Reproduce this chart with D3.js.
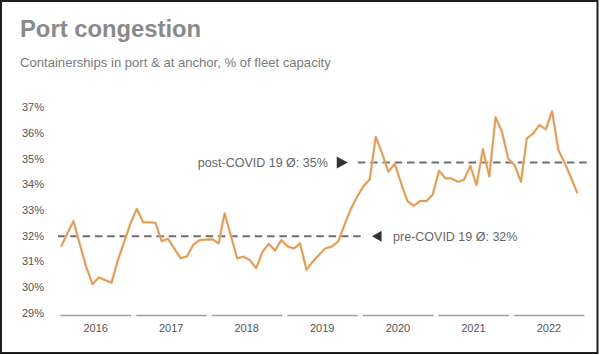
<!DOCTYPE html>
<html>
<head>
<meta charset="utf-8">
<script src="https://cdn.jsdelivr.net/npm/d3@7"></script>
<style>
  html, body { margin: 0; padding: 0; background: #fff; }
  svg { display: block; font-family: "Liberation Sans", Arial, Helvetica, sans-serif; }
</style>
</head>
<body>
<svg id="chart" width="600" height="355"></svg>
<script>
// ---- Data ----
const title = "Port congestion";
const subtitle = "Containerships in port & at anchor, % of fleet capacity";
const startMonth = "2016-01";
// Monthly share of fleet capacity (%) Jan 2016 .. Nov 2022
const congestion = [
  31.57, 32.10, 32.57, 31.65, 30.80, 30.11, 30.37, 30.27, 30.17, 31.03, 31.76, 32.47,
  33.04, 32.52, 32.52, 32.50, 31.79, 31.88, 31.50, 31.12, 31.20, 31.65, 31.83, 31.85,
  31.86, 31.70, 32.87, 32.00, 31.12, 31.18, 31.05, 30.73, 31.38, 31.68, 31.42, 31.83,
  31.57, 31.51, 31.70, 30.67, 30.99, 31.25, 31.51, 31.57, 31.77, 32.40, 33.03, 33.50,
  33.92, 34.20, 35.85, 35.20, 34.49, 34.80, 34.05, 33.35, 33.16, 33.35, 33.35, 33.60,
  34.53, 34.23, 34.23, 34.10, 34.17, 34.72, 33.97, 35.37, 34.30, 36.61, 36.05, 35.00,
  34.75, 34.10, 35.79, 35.98, 36.31, 36.14, 36.85, 35.33, 34.82, 34.25, 33.65
];
const years = [2016, 2017, 2018, 2019, 2020, 2021, 2022];
const yTicks = [29, 30, 31, 32, 33, 34, 35, 36, 37];
const averages = [
  { label: "pre-COVID 19 Ø: 32%", value: 31.98, from: "2016-01-01", to: "2020-01-05", side: "right" },
  { label: "post-COVID 19 Ø: 35%", value: 34.85, from: "2019-12-20", to: "2022-12-31", side: "left" }
];

// ---- Layout ----
const svg = d3.select("#chart");
const W = 600, H = 355;
const plot = { left: 58, right: 587, top: 107.3, bottom: 312.7 };

const parseMonth = d3.timeParse("%Y-%m");
const parseDay = d3.timeParse("%Y-%m-%d");
const t0 = parseMonth(startMonth);
const series = congestion.map((v, i) => {
  const d = d3.timeMonth.offset(t0, i);
  return { date: new Date(d.getFullYear(), d.getMonth(), 16), value: v };
});

const x = d3.scaleTime()
  .domain([new Date(years[0], 0, 1), new Date(years[years.length - 1] + 1, 0, 1)])
  .range([plot.left, plot.right]);
const y = d3.scaleLinear().domain([29, 37]).range([plot.bottom, plot.top]);

// Frame
svg.append("rect").attr("x", 1).attr("y", 1).attr("width", W - 3.5).attr("height", H - 3)
  .attr("fill", "#fff").attr("stroke", "#1e1e1e").attr("stroke-width", 2);

// Title & subtitle
svg.append("text").attr("x", 20).attr("y", 37).text(title)
  .attr("font-size", 23.8).attr("font-weight", "bold").attr("fill", "#8a8a8a");
svg.append("text").attr("x", 20).attr("y", 67).text(subtitle)
  .attr("font-size", 13.1).attr("fill", "#7a7a7a");

// Y axis labels
const yAxis = d3.axisLeft(y).tickValues(yTicks).tickFormat(d => d + "%").tickSize(0).tickPadding(0);
const yg = svg.append("g").attr("transform", `translate(44,0)`).call(yAxis);
yg.select(".domain").remove();
yg.selectAll("text").attr("font-size", 11).attr("fill", "#555")
  .attr("font-family", "'Liberation Sans', Arial, sans-serif");

// X axis: year segments + labels
const xg = svg.append("g");
xg.selectAll("line.seg").data(years).join("line").attr("class", "seg")
  .attr("x1", d => x(new Date(d, 0, 1)) + 2.5)
  .attr("x2", d => x(new Date(d + 1, 0, 1)) - 2.5)
  .attr("y1", 315.5).attr("y2", 315.5)
  .attr("stroke", "#a0a0a0").attr("stroke-width", 1.6);
xg.selectAll("text.yr").data(years).join("text").attr("class", "yr")
  .attr("x", d => x(new Date(d, 6, 1)))
  .attr("y", 331.5)
  .attr("text-anchor", "middle")
  .attr("font-size", 11).attr("fill", "#555")
  .text(d => d);

// Average lines
averages.forEach(a => {
  const xa = x(parseDay(a.from)), xb = x(parseDay(a.to));
  const yy = y(a.value);
  svg.append("line").attr("x1", xa).attr("x2", xb).attr("y1", yy).attr("y2", yy)
    .attr("stroke", "#6e6e6e").attr("stroke-width", 2).attr("stroke-dasharray", "7.5,4.8");
  if (a.side === "right") {
    const ax = xb + 11;
    svg.append("path")
      .attr("d", `M${ax},${yy} L${ax + 9.5},${yy - 5.5} L${ax + 9.5},${yy + 5.5} Z`)
      .attr("fill", "#333");
    svg.append("text").attr("x", ax + 21).attr("y", yy).attr("dy", "0.36em")
      .attr("font-size", 12.5).attr("fill", "#666").text(a.label);
  } else {
    const ax = xa - 10;
    svg.append("path")
      .attr("d", `M${ax},${yy} L${ax - 11},${yy - 6} L${ax - 11},${yy + 6} Z`)
      .attr("fill", "#333");
    svg.append("text").attr("x", ax - 20).attr("y", yy).attr("dy", "0.36em")
      .attr("text-anchor", "end")
      .attr("font-size", 12.5).attr("fill", "#666").text(a.label);
  }
});

// Line
const line = d3.line().x(d => x(d.date)).y(d => y(d.value));
svg.append("path").datum(series).attr("d", line)
  .attr("fill", "none").attr("stroke", "#f3d3b0").attr("stroke-width", 3.2)
  .attr("stroke-linejoin", "round").attr("opacity", 0.6);
svg.append("path").datum(series).attr("d", line)
  .attr("fill", "none").attr("stroke", "#df9a55").attr("stroke-width", 1.8)
  .attr("stroke-linejoin", "round");
</script>
</body>
</html>
